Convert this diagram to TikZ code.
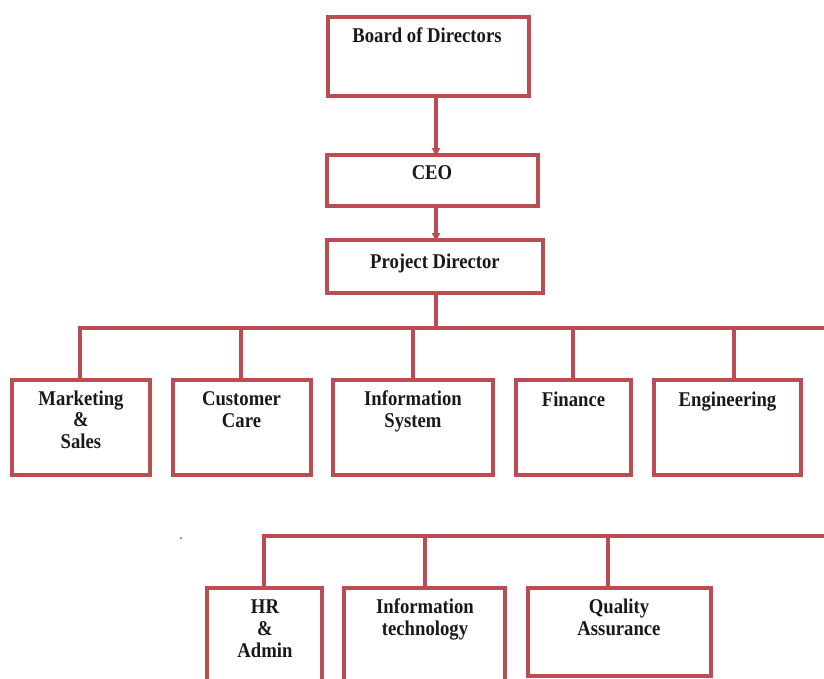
\documentclass[tikz,border=0pt]{standalone}
\usepackage{fontspec}
\setmainfont{Liberation Serif}
\newfontfamily\orgfont{Liberation Serif}[FakeStretch=0.89]
\usetikzlibrary{arrows.meta}
\definecolor{orgred}{RGB}{186,76,82}
\tikzset{
  box/.style={draw=orgred, line width=3.1pt, rectangle, inner sep=0pt, outer sep=0pt, anchor=north west},
  % anchor=base sits on the last line of a multi-line label
  lbl/.style={align=center, anchor=base, inner sep=0pt, text=black!90,
    font=\orgfont\fontsize{21}{21.8}\selectfont\bfseries},
  wire/.style={draw=orgred, line width=3.1pt},
  arrowwire/.style={wire, -{Triangle[length=8pt,width=8pt]}, shorten >=-1pt},
}
\begin{document}
\begin{tikzpicture}[x=1pt,y=-1pt]
  \clip (0,0) rectangle (824,678);
  \fill[white] (0,0) rectangle (824,678);

  % upper chain
  \node[box, minimum width=201pt, minimum height=79pt] (bod) at (328,17) {};
  \node[box, minimum width=211pt, minimum height=51pt] (ceo) at (327,155) {};
  \node[box, minimum width=216pt, minimum height=53pt] (pd)  at (327,240) {};

  \node[lbl] (bod-t) at (427,42)  {Board of Directors};
  \node[lbl] (ceo-t) at (432,179) {CEO};
  \node[lbl] (pd-t)  at (435,268) {Project Director};

  % departments, first row
  \node[box, minimum width=138pt, minimum height=95pt] (mkt) at (12,380)  {};
  \node[box, minimum width=138pt, minimum height=95pt] (cc)  at (173,380) {};
  \node[box, minimum width=160pt, minimum height=95pt] (is)  at (333,380) {};
  \node[box, minimum width=115pt, minimum height=95pt] (fin) at (516,380) {};
  \node[box, minimum width=147pt, minimum height=95pt] (eng) at (654,380) {};

  \node[lbl] (mkt-t) at (81,448.6)  {Marketing\\\&\\Sales};
  \node[lbl] (cc-t)  at (241.5,427) {Customer\\Care};
  \node[lbl] (is-t)  at (413,427)   {Information\\System};
  \node[lbl] (fin-t) at (573.5,406) {Finance};
  \node[lbl] (eng-t) at (727.5,406) {Engineering};

  % departments, second row
  \node[box, minimum width=115pt, minimum height=130pt] (hr) at (207,588) {};
  \node[box, minimum width=161pt, minimum height=130pt] (it) at (344,588) {};
  \node[box, minimum width=183pt, minimum height=88pt]  (qa) at (528,588) {};

  \node[lbl] (hr-t) at (265,657) {HR\\\&\\Admin};
  \node[lbl] (it-t) at (425,635) {Information\\technology};
  \node[lbl] (qa-t) at (619,635) {Quality\\Assurance};

  % reporting lines
  \coordinate (top-a) at (436,0);
  \draw[arrowwire] (bod.south -| top-a) -- (ceo.north -| top-a);
  \draw[arrowwire] (ceo.south -| top-a) -- (pd.north -| top-a);

  \coordinate (busA-end) at (830,328);
  \coordinate (d-mkt) at (80,328);
  \coordinate (d-cc)  at (241,328);
  \coordinate (d-is)  at (413,328);
  \coordinate (d-fin) at (573,328);
  \coordinate (d-eng) at (734,328);
  \draw[wire] (pd.south -| top-a) -- (top-a |- d-mkt);
  \draw[wire] (busA-end) -- (d-mkt) -- (d-mkt |- mkt.north);
  \draw[wire] (d-cc)  -- (d-cc |- cc.north);
  \draw[wire] (d-is)  -- (d-is |- is.north);
  \draw[wire] (d-fin) -- (d-fin |- fin.north);
  \draw[wire] (d-eng) -- (d-eng |- eng.north);

  \coordinate (busB-end) at (830,536);
  \coordinate (d-hr) at (264,536);
  \coordinate (d-it) at (425,536);
  \coordinate (d-qa) at (608,536);
  \draw[wire] (busB-end) -- (d-hr) -- (d-hr |- hr.north);
  \draw[wire] (d-it) -- (d-it |- it.north);
  \draw[wire] (d-qa) -- (d-qa |- qa.north);

  % stray mark
  \fill[black!60] (181,538) circle (1pt);
\end{tikzpicture}
\end{document}
